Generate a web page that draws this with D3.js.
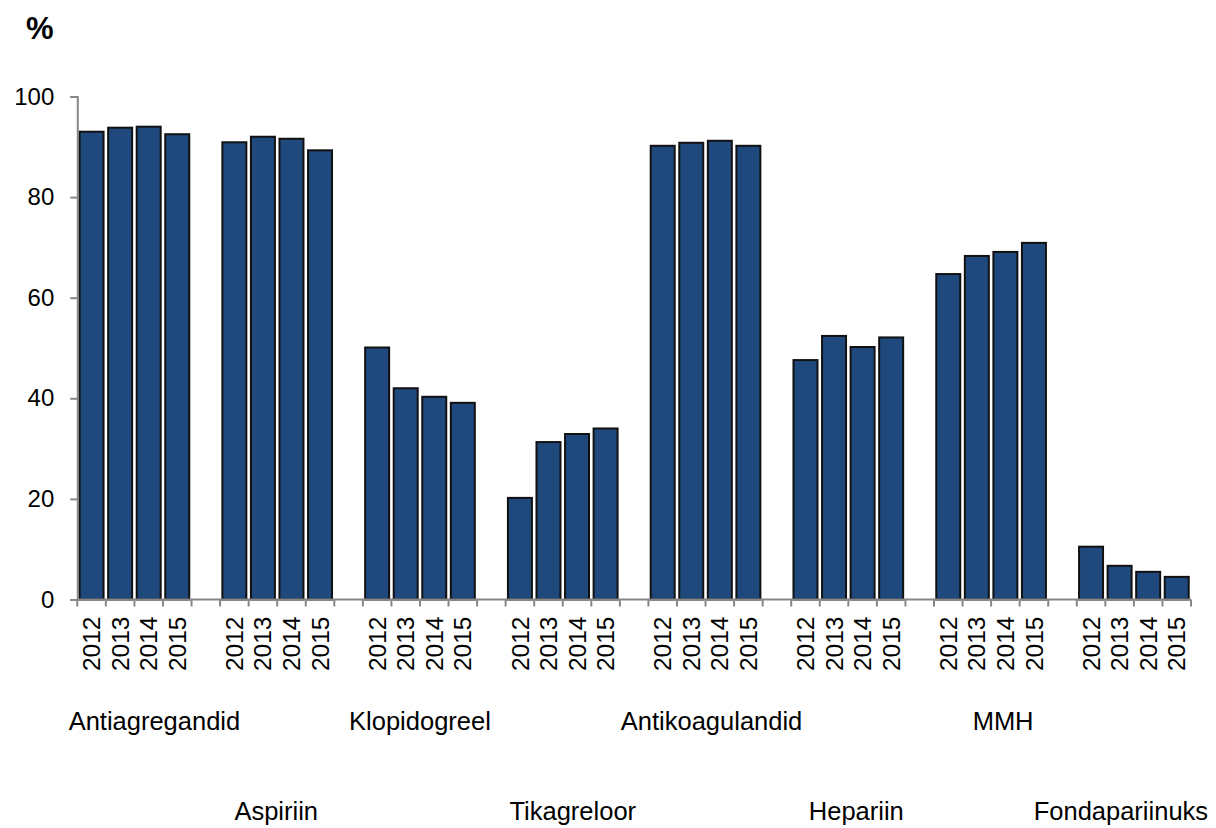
<!DOCTYPE html>
<html>
<head>
<meta charset="utf-8">
<script src="https://cdn.jsdelivr.net/npm/d3@7"></script>
<style>
  body { margin: 0; background: #fff; }
  svg { display: block; font-family: "Liberation Sans", Arial, sans-serif; }
</style>
</head>
<body>
<svg width="1216" height="828"></svg>
<script>
// ---- data ----
const groups = ["Antiagregandid", "Aspiriin", "Klopidogreel", "Tikagreloor",
  "Antikoagulandid", "Hepariin", "MMH", "Fondapariinuks"];
const years = ["2012", "2013", "2014", "2015"];
const antiagregandid = [93.0, 93.8, 94.0, 92.5];
const aspiriin = [90.9, 92.0, 91.6, 89.3];
const klopidogreel = [50.1, 42.0, 40.3, 39.1];
const tikagreloor = [20.2, 31.3, 32.9, 34.0];
const antikoagulandid = [90.2, 90.8, 91.2, 90.2];
const hepariin = [47.6, 52.4, 50.2, 52.1];
const mmh = [64.7, 68.3, 69.1, 70.9];
const fondapariinuks = [10.5, 6.7, 5.5, 4.5];
const yTicks = [0, 20, 40, 60, 80, 100];

const values = [antiagregandid, aspiriin, klopidogreel, tikagreloor,
  antikoagulandid, hepariin, mmh, fondapariinuks];

// ---- layout ----
const width = 1216, height = 828;
const margin = {left: 77.3, right: 25, top: 96.5, bottom: 228.5};
const labelNudge = [20, -1, 0, 10, 6, 8, 12, -13]; // excel puts the group names a bit off-centre
const barFill = "#1f497d";
const axisColor = "#868686";

// one slot per bar, plus an empty slot between groups
const slots = [];
groups.forEach((g, gi) => {
  years.forEach((yr, i) => slots.push({key: g + "|" + yr, group: gi, year: yr, value: values[gi][i]}));
  if (gi < groups.length - 1) slots.push({key: "gap" + gi, group: gi, year: null, value: null});
});

const svg = d3.select("svg");

const x = d3.scaleBand()
  .domain(slots.map(d => d.key))
  .range([margin.left, width - margin.right])
  .paddingInner(0.16)
  .paddingOuter(0.08);

const y = d3.scaleLinear()
  .domain([0, 100])
  .range([height - margin.bottom, margin.top]);

const step = x.step();
const x0 = x.range()[0];

// bars
svg.append("g")
  .selectAll("rect")
  .data(slots.filter(d => d.value != null))
  .join("rect")
  .attr("x", d => x(d.key))
  .attr("y", d => y(d.value))
  .attr("width", x.bandwidth())
  .attr("height", d => y(0) - y(d.value))
  .attr("fill", barFill)
  .attr("stroke", "#111")
  .attr("stroke-width", 2);

// y axis
const yAxis = d3.axisLeft(y)
  .tickValues(yTicks)
  .tickSize(7)
  .tickPadding(16);
const yg = svg.append("g")
  .attr("transform", `translate(${margin.left},0)`)
  .call(yAxis);
yg.select(".domain").attr("stroke", axisColor).attr("stroke-width", 2);
yg.selectAll(".tick line").attr("stroke", axisColor).attr("stroke-width", 2);
yg.selectAll(".tick text")
  .attr("font-size", "24px")
  .attr("fill", "#000")
  .attr("font-family", "Liberation Sans, Arial, sans-serif");

// x axis line with a tick at every slot boundary
const xg = svg.append("g");
xg.append("line")
  .attr("x1", x0).attr("x2", x.range()[1])
  .attr("y1", y(0)).attr("y2", y(0))
  .attr("stroke", axisColor).attr("stroke-width", 2);
xg.selectAll("line.tk")
  .data(d3.range(slots.length + 1))
  .join("line")
  .attr("class", "tk")
  .attr("x1", i => x0 + i * step).attr("x2", i => x0 + i * step)
  .attr("y1", y(0)).attr("y2", y(0) + 7)
  .attr("stroke", axisColor).attr("stroke-width", 2);

// year labels, rotated
svg.append("g")
  .selectAll("text")
  .data(slots.filter(d => d.year != null))
  .join("text")
  .attr("transform", d => `translate(${x(d.key) + x.bandwidth() / 2},${y(0) + 17}) rotate(-90)`)
  .attr("text-anchor", "end")
  .attr("dy", "0.35em")
  .attr("font-size", "24.5px")
  .text(d => d.year);

// group labels, staggered on two rows
svg.append("g")
  .selectAll("text")
  .data(groups)
  .join("text")
  .attr("x", (g, i) => x(g + "|2012") - x.paddingInner() * step / 2 + 2 * step + labelNudge[i])
  .attr("y", (g, i) => i % 2 === 0 ? 730 : 820)
  .attr("text-anchor", "middle")
  .attr("font-size", "25.5px")
  .text(g => g);

// unit label
svg.append("text")
  .attr("x", 26)
  .attr("y", 39)
  .attr("font-size", "31px")
  .attr("font-weight", "bold")
  .text("%");
</script>
</body>
</html>
